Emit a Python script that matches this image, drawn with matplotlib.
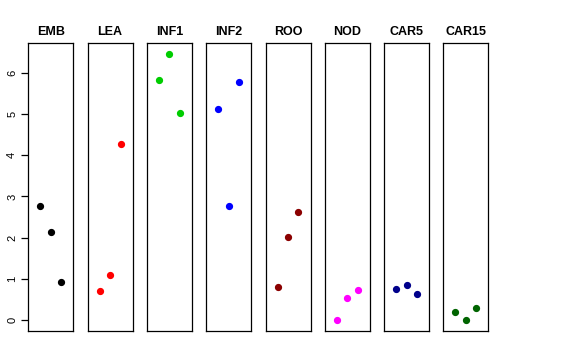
import numpy as np
import matplotlib.pyplot as plt

plt.rcParams['font.family'] = ['Liberation Sans', 'DejaVu Sans']

tissues = ["EMB", "LEA", "INF1", "INF2", "ROO", "NOD", "CAR5", "CAR15"]
colors = ["black", "#FF0000", "#00CD00", "#0000FF", "#8B0000", "#FF00FF", "#00008B", "#006400"]
reps = [1, 2, 3]

emb = [2.78, 2.15, 0.92]
lea = [0.72, 1.09, 4.28]
inf1 = [5.83, 6.45, 5.03]
inf2 = [5.11, 2.78, 5.78]
roo = [0.80, 2.01, 2.63]
nod = [0.01, 0.55, 0.74]
car5 = [0.77, 0.85, 0.64]
car15 = [0.21, 0.01, 0.31]
values = [emb, lea, inf1, inf2, roo, nod, car5, car15]

W, H = 576, 360
fig = plt.figure(figsize=(W / 100, H / 100), dpi=100)

left0 = 28.3
pitch = 59.3
width = 45.0
top_px, bot_px = 43.3, 331.0
ylim = (-0.258, 6.708)

for i, (name, col, vals) in enumerate(zip(tissues, colors, values)):
    x0 = left0 + i * pitch
    ax = fig.add_axes([x0 / W, 1 - bot_px / H, width / W, (bot_px - top_px) / H])
    ax.plot(reps, vals, "o", color=col, markersize=4.2, linestyle="none")
    ax.set_xlim(-0.16, 4.16)
    ax.set_ylim(*ylim)
    ax.set_xticks([])
    for s in ax.spines.values():
        s.set_linewidth(0.9)
        s.set_color("black")
    ax.set_title(name, fontsize=9, fontweight="bold", pad=6)
    if i == 0:
        ax.set_yticks(range(0, 7))
        ax.tick_params(axis="y", labelsize=8, length=5, width=0.9, pad=3)
        for lab in ax.get_yticklabels():
            lab.set_rotation(90)
            lab.set_va("center")
    else:
        ax.set_yticks([])

fig.savefig("out.png", dpi=100)
